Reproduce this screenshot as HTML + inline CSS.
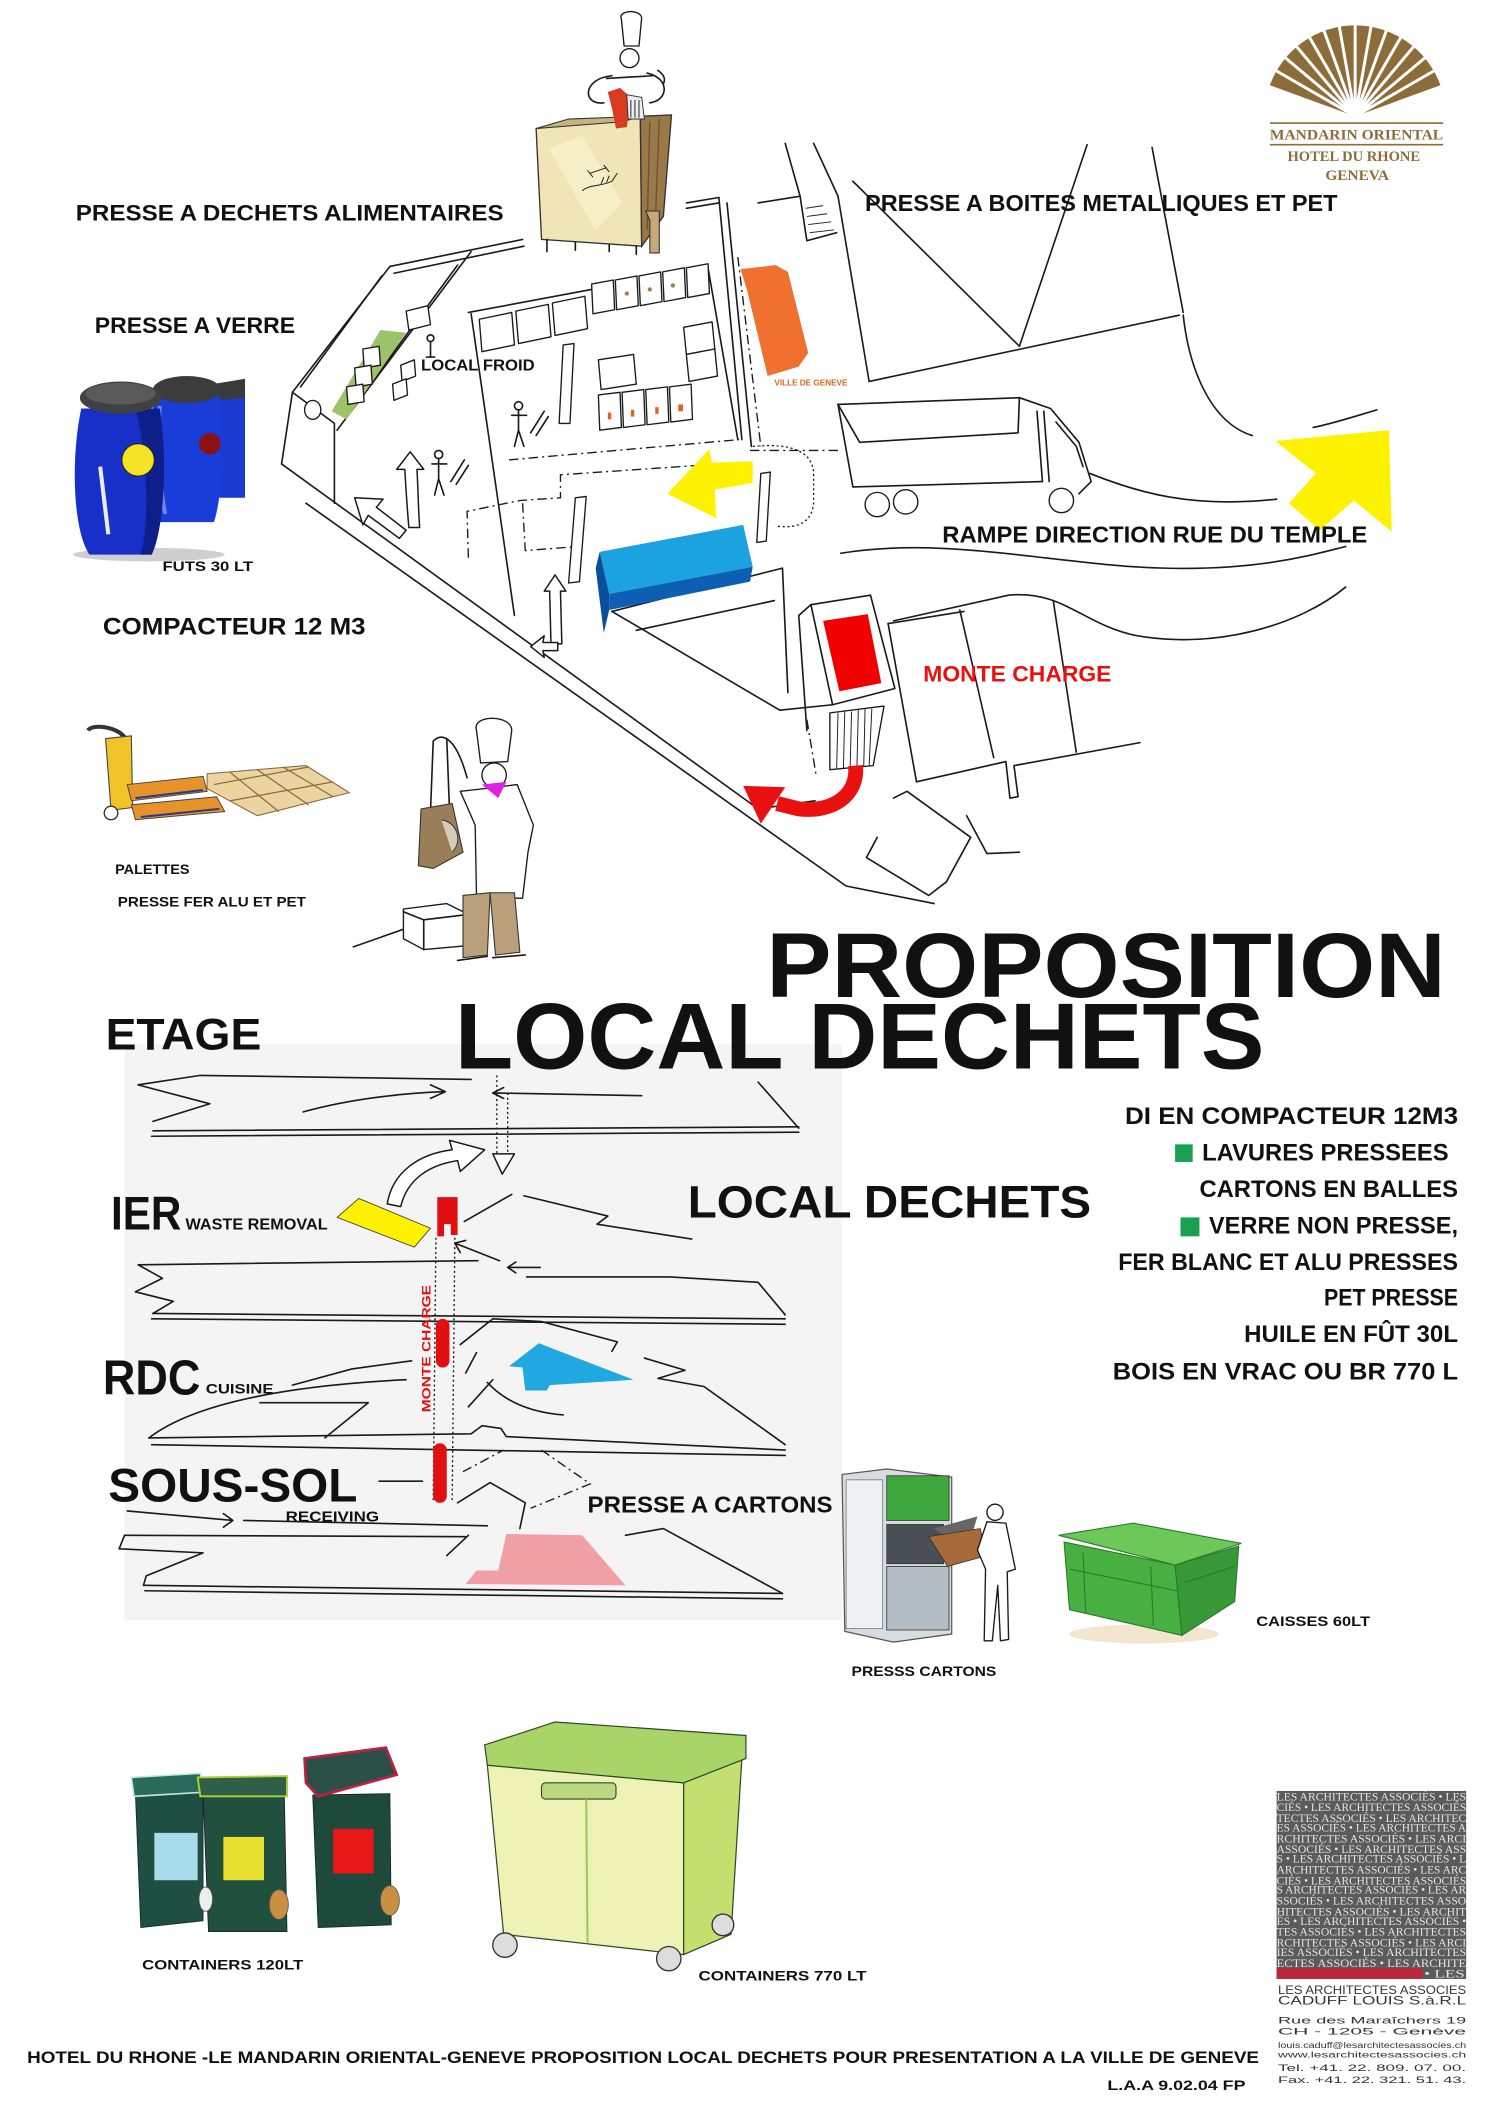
<!DOCTYPE html>
<html><head><meta charset="utf-8">
<style>
html,body{margin:0;padding:0;background:#fff;}
svg{display:block;}
.t{font-family:"Liberation Sans","DejaVu Sans",sans-serif;font-weight:700;fill:#111;}
.k{fill:none;stroke:#1a1a1a;stroke-width:1.2;stroke-linecap:round;stroke-linejoin:round;}
.kt{fill:none;stroke:#1a1a1a;stroke-width:0.7;}
.d{fill:none;stroke:#1a1a1a;stroke-width:1;stroke-dasharray:7 3 1.5 3;}
.dt{fill:none;stroke:#1a1a1a;stroke-width:1;stroke-dasharray:1.5 2;}
.w{fill:#fff;stroke:#1a1a1a;stroke-width:1.1;stroke-linejoin:round;}
.b{fill:#fff;stroke:#1a1a1a;stroke-width:1;stroke-linejoin:round;}
</style></head><body>
<svg width="1500" height="2121" viewBox="0 0 1108 1568" preserveAspectRatio="none" xmlns="http://www.w3.org/2000/svg">
<rect x="0" y="0" width="1108" height="1568" fill="#fff"/>

<!-- section background first -->
<rect x="92" y="772" width="530" height="426" fill="#f4f4f4"/>

<!-- ===== TOP LOGO ===== -->
<path d="M1001,86 L938,63 A67,67 0 0 1 1064,63 Z" fill="#8c6d3a"/>
<g stroke="#fff" stroke-width="2.2">
<line x1="1001" y1="86" x2="1001" y2="14" transform="rotate(-60 1001 86)"/>
<line x1="1001" y1="86" x2="1001" y2="14" transform="rotate(-50 1001 86)"/>
<line x1="1001" y1="86" x2="1001" y2="14" transform="rotate(-40 1001 86)"/>
<line x1="1001" y1="86" x2="1001" y2="14" transform="rotate(-30 1001 86)"/>
<line x1="1001" y1="86" x2="1001" y2="14" transform="rotate(-20 1001 86)"/>
<line x1="1001" y1="86" x2="1001" y2="14" transform="rotate(-10 1001 86)"/>
<line x1="1001" y1="86" x2="1001" y2="14"/>
<line x1="1001" y1="86" x2="1001" y2="14" transform="rotate(10 1001 86)"/>
<line x1="1001" y1="86" x2="1001" y2="14" transform="rotate(20 1001 86)"/>
<line x1="1001" y1="86" x2="1001" y2="14" transform="rotate(30 1001 86)"/>
<line x1="1001" y1="86" x2="1001" y2="14" transform="rotate(40 1001 86)"/>
<line x1="1001" y1="86" x2="1001" y2="14" transform="rotate(50 1001 86)"/>
<line x1="1001" y1="86" x2="1001" y2="14" transform="rotate(60 1001 86)"/>
</g>
<path d="M1001,86 L990,80 A13,13 0 0 1 1012,80 Z" fill="#fff"/>
<line x1="938" y1="91" x2="1066" y2="91" stroke="#8c6d3a" stroke-width="1.2"/>
<line x1="938" y1="107" x2="1066" y2="107" stroke="#8c6d3a" stroke-width="1.2"/>
<text x="938" y="103" font-family="Liberation Serif,serif" font-weight="700" font-size="11" fill="#8c6d3a" textLength="128" lengthAdjust="spacingAndGlyphs">MANDARIN ORIENTAL</text>
<text x="951" y="119" font-family="Liberation Serif,serif" font-weight="700" font-size="10.5" fill="#8c6d3a" textLength="98" lengthAdjust="spacingAndGlyphs">HOTEL DU RHONE</text>
<text x="979" y="133" font-family="Liberation Serif,serif" font-weight="700" font-size="10.5" fill="#8c6d3a" textLength="47" lengthAdjust="spacingAndGlyphs">GENEVA</text>

<!-- ===== FOOD PRESS BOX + CHEF ===== -->
<polygon points="396,95 473,86 474,182 400,177" fill="#efe5b6" stroke="#333" stroke-width="1"/>
<polygon points="405,110 430,100 460,150 440,170" fill="#f7f0cc" opacity="0.8"/>
<polygon points="473,86 496,85 490,160 474,182" fill="#9a7848" stroke="#333" stroke-width="1"/>
<line x1="480" y1="90" x2="478" y2="170" stroke="#6e5230" stroke-width="1"/>
<line x1="487" y1="88" x2="484" y2="165" stroke="#6e5230" stroke-width="1"/>
<polygon points="396,95 420,88 473,86 460,90" fill="#c9b27c" stroke="#333" stroke-width="0.8"/>
<path class="kt" d="M436,128 L448,124 M434,126 L438,131 M446,122 L450,127 M430,141 C436,136 444,138 452,134 L456,128 M444,136 L446,131 M448,135 L450,130"/>
<path class="k" d="M404,177 L404,186 M425,179 L425,185 M450,181 L450,186 M470,182 L470,188"/>
<path d="M477,156 L487,156 L487,187 L480,187 L480,163 Z" fill="#c8a878" stroke="#333" stroke-width="0.8"/>
<path d="M459,14 C456,8 472,6 474,13 L472,34 L461,34 Z" class="b"/>
<circle cx="465" cy="43" r="7" class="b"/>
<path class="k" d="M452,56 C430,58 430,78 446,76 M478,54 C495,58 494,74 480,76 M448,58 L482,56 M486,52 C490,55 492,58 490,62"/>
<polygon points="449,68 458,65 466,72 463,94 455,95 452,80" fill="#d83c20"/>
<polygon points="463,70 474,72 476,88 464,88" fill="#eee" stroke="#333" stroke-width="0.7"/>
<path class="kt" d="M466,74 L466,87 M469,74 L469,87 M472,74 L472,87"/>

<!-- ===== TOP-LEFT LABELS ===== -->
<text class="t" x="56" y="163" font-size="16.5" textLength="316" lengthAdjust="spacingAndGlyphs">PRESSE A DECHETS ALIMENTAIRES</text>
<text class="t" x="70" y="246" font-size="16.5" textLength="148" lengthAdjust="spacingAndGlyphs">PRESSE A VERRE</text>
<text class="t" x="76" y="469" font-size="17.5" textLength="194" lengthAdjust="spacingAndGlyphs">COMPACTEUR 12 M3</text>
<text class="t" x="85" y="646" font-size="10.5" textLength="55" lengthAdjust="spacingAndGlyphs">PALETTES</text>
<text class="t" x="87" y="670" font-size="10.5" textLength="139" lengthAdjust="spacingAndGlyphs">PRESSE FER ALU ET PET</text>

<!-- ===== BLUE BARRELS ===== -->
<ellipse cx="110" cy="410" rx="56" ry="5" fill="#cfcfcf"/>
<path d="M158,290 L181,290 L181,368 L160,368 C163,340 162,310 158,290 Z" fill="#1a3ad0"/>
<path d="M157,284 L181,280 L181,294 L159,296 Z" fill="#3a3a3a"/>
<path d="M114,292 C110,330 111,368 118,386 L158,386 C164,368 166,330 162,292 Z" fill="#1a3cd8"/>
<ellipse cx="138" cy="288" rx="25" ry="10" fill="#3c3c3c"/>
<path d="M118,300 C116,330 118,360 122,380" stroke="#6a86f0" stroke-width="3" fill="none"/>
<circle cx="155" cy="328" r="8" fill="#8a1212"/>
<path d="M60,302 C52,340 54,392 66,410 L112,410 C121,392 124,340 118,302 Z" fill="#1830c8"/>
<path d="M100,302 C110,340 110,390 104,410 L112,410 C121,392 124,340 118,302 Z" fill="#0e1f8a"/>
<ellipse cx="89" cy="294" rx="30" ry="12" fill="#414141"/>
<ellipse cx="89" cy="291" rx="26" ry="8" fill="#5a5a5a"/>
<path d="M74,345 L80,395" stroke="#e8ecff" stroke-width="3" fill="none"/>
<circle cx="102" cy="340" r="12" fill="#f2e424" stroke="#222" stroke-width="0.8"/>
<text class="t" x="120" y="422" font-size="10.5" textLength="67" lengthAdjust="spacingAndGlyphs">FUTS  30 LT</text>

<!-- ===== PALLET TRUCK ===== -->
<path d="M65,540 C68,535 86,537 92,545" stroke="#333" stroke-width="3" fill="none"/>
<polygon points="78,546 97,544 98,597 82,599" fill="#f0c428" stroke="#444" stroke-width="0.8"/>
<polygon points="94,580 150,574 153,585 97,592" fill="#e8922a" stroke="#444" stroke-width="0.7"/>
<polygon points="97,595 160,589 166,600 100,606" fill="#e8922a" stroke="#444" stroke-width="0.7"/>
<path d="M100,590 L150,584 M104,604 L162,598" stroke="#2a3a8a" stroke-width="1.5"/>
<circle cx="82" cy="601" r="5" fill="#fff" stroke="#333"/>
<polygon points="153,572 226,566 258,586 190,603 153,583" fill="#ecd4a0" stroke="#8a6a40" stroke-width="0.8"/>
<path d="M170,571 L206,600 M190,569 L228,595 M209,567 L246,589 M158,580 L228,567 M170,592 L246,578" stroke="#8a6a40" stroke-width="0.9"/>

<!-- ===== CHEF 2 WITH BAG ===== -->
<path d="M261,700 L298,687" class="k"/>
<polygon points="298,672 330,668 346,676 346,699 313,702 298,694" class="b"/>
<path class="k" d="M298,674 L313,680 L346,676 M313,680 L313,702"/>
<path d="M352,540 C348,528 378,528 378,540 L375,563 L355,564 Z" class="b"/>
<circle cx="365" cy="573" r="9" class="b"/>
<path d="M358,583 L382,580 L394,610 L390,630 L386,664 L352,664 L351,610 L340,585 Z" class="b"/>
<path d="M356,580 L368,590 L374,578" fill="#e020e0"/>
<polygon points="342,662 362,660 360,706 342,708" fill="#b9a07a" stroke="#333" stroke-width="0.8"/>
<polygon points="362,660 380,660 384,704 366,706" fill="#b9a07a" stroke="#333" stroke-width="0.8"/>
<path class="k" d="M338,710 L360,707 M364,708 L388,706"/>
<path class="k" d="M320,548 L318,600 M330,546 L332,598 M320,548 C325,542 336,542 345,575"/>
<polygon points="311,598 334,594 342,630 320,642 309,640" fill="#9a7e58" stroke="#333" stroke-width="0.8"/>
<path d="M326,606 C338,608 342,622 334,630" fill="#d4cbb8" stroke="#333" stroke-width="0.7"/>

<!-- ===== MAIN PLAN SKETCH ===== -->
<g class="k">
<path d="M288,197 L386,177 M291,202 L387,182"/>
<path d="M507,150 L531,146 M507,154 L531,150"/>
<path d="M288,197 L216,290 L208,343"/>
<path d="M282,204 L222,286"/>
<path d="M216,290 L247,313 L247,372"/>
<path d="M348,186 L249,318"/>
<path d="M338,196 L258,305"/>
<path d="M208,343 L560,598 L602,592"/>
<path d="M226,372 L625,655 L690,668"/>
<path d="M346,231 L437,214"/>
<path d="M348,232 L380,455"/>
<path d="M523,198 L545,325"/>
<path d="M531,146 L548,325"/>
<path d="M537,150 L555,330"/>
<path d="M452,452 L578,420 L582,512"/>
<path d="M452,452 L576,525 L615,521"/>
<path d="M470,466 L572,444"/>
<path d="M580,106 L591,145 M601,106 L619,145 M560,150 L591,145"/>
<path d="M591,145 L596,178 L618,172"/>
<path d="M619,145 L642,282"/>
<path d="M630,134 L753,256 L803,107"/>
<path d="M642,282 L871,233"/>
<path d="M851,109 L874,231"/>
<path d="M874,233 C878,270 893,312 925,322"/>
<path d="M1017,303 C1000,308 985,313 970,316"/>
<path d="M805,350 C840,364 880,376 943,369"/>
<path d="M621,409 C700,396 780,418 860,420 C930,422 970,410 994,404"/>
<path d="M660,459 L745,440 C785,436 800,462 840,470 C900,480 960,462 994,434"/>
<path d="M656,461 L712,452"/>
<path d="M656,461 L677,578"/>
<path d="M709,451 L734,560"/>
<path d="M778,444 L795,556"/>
<path d="M677,578 L743,563 L746,590 L752,589 L749,566 L842,549"/>
<path d="M660,590 L670,585 L717,619 L699,652 L686,662 L640,634 L648,619"/>
<path d="M714,603 L729,631 L753,630"/>
<path d="M599,447 L643,440 L661,509 L615,521 Z"/>
<path d="M590,455 L599,447 M590,455 L596,540"/>
<path d="M619,299 L753,294 L776,302 L797,327 L806,356 L797,365"/>
<path d="M619,299 L630,360 L770,356"/>
<path d="M619,299 L635,327 L752,320 L753,294"/>
<path d="M766,304 L770,356 M771,304 L775,356 M780,312 L795,330 L800,345"/>
</g>
<circle cx="648" cy="373" r="9" class="b"/>
<circle cx="669" cy="371" r="9" class="b"/>
<circle cx="784" cy="370" r="9" class="b"/>
<path d="M554,333 L619,333" class="d"/>
<path d="M376,340 L546,325" class="d"/>
<path d="M546,342 L414,351 L414,368 L384,370 L345,378 L346,414" class="d"/>
<path d="M386,372 L388,407 L428,404" class="d"/>
<path d="M545,190 L562,330" class="d"/>
<path d="M556,330 Q600,326 601,350 L601,372 Q599,392 574,389" class="dt"/>
<path d="M596,532 L603,574" class="d"/>
<path d="M262,300 L290,262" class="d"/>
<path class="kt" d="M595,154 L608,152 M596,160 L611,158 M597,166 L614,164 M598,172 L616,170"/>

<polygon points="281,244 300,246 256,310 245,304" fill="#9cc26a"/>
<polygon points="268,258 280,256 281,270 269,272" class="b"/>
<polygon points="262,272 274,270 275,284 263,286" class="b"/>
<polygon points="256,286 268,284 269,297 257,299" class="b"/>
<polygon points="300,230 316,226 318,240 302,244" class="b"/>
<polygon points="296,270 306,266 307,278 297,282" class="b"/>
<polygon points="290,284 300,280 301,292 291,296" class="b"/>
<ellipse cx="231" cy="303" rx="6" ry="7" class="b"/>

<polygon points="354,236 378,231 380,255 356,260" class="b"/>
<polygon points="381,230 405,225 407,249 383,254" class="b"/>
<polygon points="408,224 432,219 434,243 410,248" class="b"/>
<polygon points="437,210 453,207 454,229 438,232" class="b"/>
<polygon points="454.5,207 470.5,204 471.5,226 455.5,229" class="b"/>
<polygon points="472,204 488,201 489,223 473,226" class="b"/>
<polygon points="489.5,201 505.5,198 506.5,220 490.5,223" class="b"/>
<polygon points="507,198 523,195 524,217 508,220" class="b"/>
<circle cx="463" cy="217" r="1.6" fill="#a08050"/>
<circle cx="480" cy="214" r="1.6" fill="#a08050"/>
<circle cx="497" cy="211" r="1.6" fill="#a08050"/>
<polygon points="442,266 468,262 470,284 444,288" class="b"/>
<polygon points="442,292 458,290 459,316 443,318" class="b"/>
<polygon points="459.5,290 475.5,288 476.5,314 460.5,316" class="b"/>
<polygon points="477,288 493,286 494,312 478,314" class="b"/>
<polygon points="494.5,286 510.5,284 511.5,310 495.5,312" class="b"/>
<rect x="449" y="305" width="2.5" height="5" fill="#e86020"/>
<rect x="466" y="303" width="2.5" height="5" fill="#e86020"/>
<rect x="484" y="301" width="2.5" height="5" fill="#e86020"/>
<rect x="501" y="299" width="3.5" height="5" fill="#e86020"/>
<polygon points="505,242 526,238 528,258 507,262" class="b"/>
<polygon points="507,262 528,258 530,278 509,282" class="b"/>
<polygon points="416,255 424,254 421,313 413,313" class="b"/>
<polygon points="425,368 433,367 428,430 420,431" class="b"/>
<polygon points="562,350 569,349 566,400 559,401" class="b"/>

<g class="k" stroke-width="1">
<circle cx="383" cy="300" r="3"/><path d="M383,303 L383,318 L380,330 M383,318 L387,330 M378,307 L389,307 M392,320 L402,304 M396,322 L405,308"/>
<circle cx="324" cy="336" r="3"/><path d="M324,339 L324,354 L321,366 M324,354 L328,366 M319,343 L330,343 M333,356 L343,340 M337,358 L346,344"/>
<circle cx="318" cy="250" r="2.5"/><path d="M318,253 L318,264 M315,264 L321,264"/>
</g>

<path class="w" d="M303,334 L313,347 L308,347 C309,365 309,378 310,390 L302,390 C301,378 300,365 299,347 L293,347 Z"/>
<path class="w" d="M262,368 L283,369 L278,375 L300,392 L295,398 L272,381 L268,388 Z"/>
<path class="w" d="M410,425 L418,437 L414,437 L415,476 L407,476 L406,437 L402,437 Z"/>
<path class="w" d="M392,478 L402,470 L401,475 L412,475 L412,481 L401,481 L402,486 Z"/>

<polygon points="547,199 573,196 582,201 597,261 590,271 567,278 552,215" fill="#f07030"/>
<polygon points="493,365 524,332 526,342 556,341 556,357 528,362 529,383" fill="#fff200"/>
<polygon points="443,408 549,388 556,419 450,439" fill="#1aa3e0"/>
<polygon points="450,439 556,419 554,430 450,451" fill="#0d5fb4"/>
<polygon points="443,408 450,439 450,451 446,468 440,420" fill="#0a4f9e"/>
<polygon points="608,459 641,454 651,505 620,511" fill="#f00000"/>
<polygon points="613,527 653,522 645,566 613,569" class="b"/>
<path class="kt" d="M619,527 L618,568 M624,526 L623,568 M629,526 L628,567 M634,525 L633,567 M639,524 L638,567 M644,524 L642,566"/>
<path d="M632,566 C634,588 615,601 590,598 L574,594" fill="none" stroke="#e81010" stroke-width="11"/>
<polygon points="549,581 580,582 562,609" fill="#e81010"/>
<polygon points="942,326 1026,318 1028,393 1000,370 975,392 952,372 972,350" fill="#fff200"/>

<text class="t" x="311" y="274" font-size="11.5" textLength="84" lengthAdjust="spacingAndGlyphs">LOCAL FROID</text>
<text class="t" x="572" y="285" font-size="6" style="fill:#e06020" textLength="54" lengthAdjust="spacingAndGlyphs">VILLE DE GENEVE</text>
<text class="t" x="639" y="156" font-size="17" textLength="349" lengthAdjust="spacingAndGlyphs">PRESSE A BOITES METALLIQUES ET PET</text>
<text class="t" x="696" y="401" font-size="17" textLength="314" lengthAdjust="spacingAndGlyphs">RAMPE DIRECTION RUE DU TEMPLE</text>
<text class="t" x="682" y="504" font-size="16.5" style="fill:#e81010" textLength="139" lengthAdjust="spacingAndGlyphs">MONTE CHARGE</text>

<!-- ===== SECTION DIAGRAM ===== -->
<text class="t" x="78" y="776" font-size="33" textLength="115" lengthAdjust="spacingAndGlyphs">ETAGE</text>
<g class="k" stroke-width="1.1">
<path d="M348,798 L148,795 L102,802 L155,816 L113,829"/>
<path d="M113,836 L590,833 M112,840 L590,837"/>
<path d="M560,800 L590,834"/>
<path d="M224,822 C260,812 300,808 329,807 M318,802 L329,807 L318,812"/>
<path d="M364,808 L474,810 M372,804 L364,808 L372,812"/>
<path d="M343,903 L378,883"/>
<path d="M387,884 L449,899 L441,905 L511,916"/>
<path d="M336,919 L369,932 M336,919 L344,917 M336,919 L340,926"/>
<path d="M353,932 L102,935 L120,945 L100,955 L128,962 L113,971"/>
<path d="M113,971 L580,975 M112,975 L580,979"/>
<path d="M389,944 L495,944 L560,948 L580,972"/>
<path d="M375,937 L399,937 M381,933 L375,937 L381,941"/>
<path d="M110,1063 C140,1040 200,1025 300,1020"/>
<path d="M192,1037 L272,1037 M240,1063 L272,1037"/>
<path d="M216,1024 L260,1012 L304,1006"/>
<path d="M340,994 L364,975 L400,977 L456,992 L452,999"/>
<path d="M476,1004 L506,1013 L486,1019 L520,1025 L580,1068"/>
<path d="M360,1022 C372,1035 390,1044 416,1046"/>
<path d="M344,1015 L352,1000 M346,1040 L364,1020"/>
<path d="M110,1063 L348,1060 L356,1054 L370,1056 L374,1062 L580,1072 M112,1068 L580,1076"/>
<path d="M280,1095 L312,1095"/>
<path d="M92,1135 L344,1136 M92,1135 L88,1145 L150,1148 L108,1165 L106,1172"/>
<path d="M94,1117 L172,1124 M165,1119 L172,1124 L165,1129"/>
<path d="M180,1124 L360,1128"/>
<path d="M106,1172 L578,1178 M107,1176 L578,1182"/>
<path d="M338,1111 L362,1096 L388,1111 L384,1130"/>
<path d="M462,1135 L490,1130 L578,1178"/>
<path d="M330,1150 L346,1135"/>
</g>
<path d="M342,1088 L372,1072 M400,1072 L436,1097 L392,1115" class="d"/>
<path d="M367,795 L367,858 M375,808 L375,858" class="dt"/>
<polygon points="364,853 380,853 371,868" class="w"/>
<path class="w" d="M286,890 C290,866 310,853 334,850 L332,843 L358,850 L340,866 L338,858 C318,861 301,871 296,892 Z"/>
<path d="M322,915 L320,1110 M336,915 L334,1110" class="dt"/>
<polygon points="249,900 265,886 318,908 306,922" fill="#fff200" stroke="#333" stroke-width="0.6"/>
<polygon points="323,885 338,885 338,913 333,913 333,905 328,905 328,914 323,914" fill="#e01010"/>
<rect x="322" y="975" width="10" height="36" rx="5" fill="#e01010"/>
<rect x="320" y="1067" width="10" height="44" rx="5" fill="#e01010"/>
<polygon points="376,1010 398,993 468,1020 406,1024 404,1028 388,1028 386,1011" fill="#20a8e0"/>
<polygon points="344,1171 352,1161 368,1161 374,1134 430,1135 462,1172" fill="#f0a0a4"/>
<text class="t" x="0" y="0" font-size="9" style="fill:#e01010" transform="translate(318,1044) rotate(-90)" textLength="94" lengthAdjust="spacingAndGlyphs">MONTE CHARGE</text>

<text class="t" x="82" y="909" font-size="35" textLength="52" lengthAdjust="spacingAndGlyphs">IER</text>
<text class="t" x="137" y="909" font-size="11.5" textLength="105" lengthAdjust="spacingAndGlyphs">WASTE REMOVAL</text>
<text class="t" x="76" y="1031" font-size="36" textLength="72" lengthAdjust="spacingAndGlyphs">RDC</text>
<text class="t" x="152" y="1030" font-size="10.5" textLength="50" lengthAdjust="spacingAndGlyphs">CUISINE</text>
<text class="t" x="80" y="1110" font-size="35" textLength="184" lengthAdjust="spacingAndGlyphs">SOUS-SOL</text>
<text class="t" x="211" y="1125" font-size="11" textLength="69" lengthAdjust="spacingAndGlyphs">RECEIVING</text>
<text class="t" x="508" y="900" font-size="33.5" textLength="298" lengthAdjust="spacingAndGlyphs">LOCAL DECHETS</text>
<text class="t" x="434" y="1118" font-size="17" textLength="181" lengthAdjust="spacingAndGlyphs">PRESSE A CARTONS</text>

<!-- ===== TITLES (drawn after background) ===== -->
<text class="t" x="566" y="737" font-size="68" textLength="502" lengthAdjust="spacingAndGlyphs">PROPOSITION</text>
<text class="t" x="336" y="790" font-size="69" textLength="598" lengthAdjust="spacingAndGlyphs">LOCAL DECHETS</text>

<!-- ===== RIGHT LIST ===== -->
<text class="t" x="831" y="831" font-size="17.5" textLength="246" lengthAdjust="spacingAndGlyphs">DI EN COMPACTEUR 12M3</text>
<rect x="868" y="846" width="13" height="13" fill="#1aa050"/>
<text class="t" x="888" y="858" font-size="17.5" textLength="182" lengthAdjust="spacingAndGlyphs">LAVURES  PRESSEES</text>
<text class="t" x="886" y="885" font-size="17.5" textLength="191" lengthAdjust="spacingAndGlyphs">CARTONS EN BALLES</text>
<rect x="872" y="900" width="14" height="14" fill="#1aa050"/>
<text class="t" x="893" y="912" font-size="17.5" textLength="184" lengthAdjust="spacingAndGlyphs">VERRE NON PRESSE,</text>
<text class="t" x="826" y="939" font-size="17.5" textLength="251" lengthAdjust="spacingAndGlyphs">FER BLANC ET ALU PRESSES</text>
<text class="t" x="978" y="965" font-size="17.5" textLength="99" lengthAdjust="spacingAndGlyphs">PET PRESSE</text>
<text class="t" x="919" y="992" font-size="17.5" textLength="158" lengthAdjust="spacingAndGlyphs">HUILE EN FÛT 30L</text>
<text class="t" x="822" y="1020" font-size="17.5" textLength="255" lengthAdjust="spacingAndGlyphs">BOIS EN VRAC OU BR 770 L</text>

<!-- ===== PRESS CARTONS MACHINE ===== -->
<polygon points="622,1090 655,1086 703,1092 703,1208 660,1214 624,1206" fill="#d6dce0" stroke="#555" stroke-width="0.9"/>
<rect x="625" y="1094" width="27" height="110" fill="#eef1f2" stroke="#777" stroke-width="0.6"/>
<rect x="655" y="1091" width="46" height="33" fill="#3ea83e" stroke="#333" stroke-width="0.6"/>
<rect x="655" y="1127" width="42" height="29" fill="#4a4f55" stroke="#333" stroke-width="0.6"/>
<rect x="655" y="1158" width="46" height="47" fill="#b4bcc4" stroke="#333" stroke-width="0.6"/>
<polygon points="690,1130 722,1121 714,1148" fill="#666"/>
<polygon points="686,1136 724,1130 729,1150 700,1158" fill="#a86a3a" stroke="#333" stroke-width="0.6"/>
<circle cx="735" cy="1118" r="6" class="b"/>
<path class="b" d="M729,1125 L743,1126 L750,1160 L744,1162 L745,1212 L739,1213 L737,1172 L733,1213 L727,1213 L728,1160 L722,1146 Z"/>
<text class="t" x="629" y="1239" font-size="10.5" textLength="107" lengthAdjust="spacingAndGlyphs">PRESSS CARTONS</text>

<!-- ===== GREEN CRATE ===== -->
<ellipse cx="845" cy="1208" rx="55" ry="7" fill="#f2e6cf"/>
<polygon points="786,1140 868,1157 873,1209 790,1190" fill="#48b040" stroke="#2a7a2a" stroke-width="0.8"/>
<polygon points="868,1157 915,1143 912,1184 873,1209" fill="#389838" stroke="#2a7a2a" stroke-width="0.8"/>
<polygon points="782,1135 837,1126 917,1141 868,1157" fill="#6cc858" stroke="#2a7a2a" stroke-width="0.8"/>
<path d="M790,1160 L869,1176 M800,1148 L802,1192 M850,1158 L852,1202 M875,1170 L912,1158" stroke="#2a7a2a" stroke-width="0.8" fill="none"/>
<text class="t" x="928" y="1202" font-size="10.5" textLength="84" lengthAdjust="spacingAndGlyphs">CAISSES 60LT</text>

<!-- ===== CONTAINERS 120L ===== -->
<polygon points="100,1325 150,1323 150,1420 104,1425" fill="#1f4e42" stroke="#123" stroke-width="0.6"/>
<polygon points="97,1314 148,1311 150,1325 99,1328" fill="#2a6a5a" stroke="#bfe8e0" stroke-width="1.2"/>
<rect x="114" y="1355" width="32" height="35" fill="#a8dcea"/>
<polygon points="150,1325 210,1325 212,1428 154,1428" fill="#22503f" stroke="#123" stroke-width="0.6"/>
<polygon points="146,1314 212,1313 212,1328 148,1328" fill="#2f5f48" stroke="#b0d030" stroke-width="1.4"/>
<rect x="165" y="1358" width="30" height="32" fill="#e8e030"/>
<ellipse cx="206" cy="1408" rx="7" ry="11" fill="#c89040" stroke="#555" stroke-width="0.6"/>
<ellipse cx="152" cy="1404" rx="5" ry="9" fill="#eee" stroke="#555" stroke-width="0.6"/>
<polygon points="231,1327 288,1326 289,1423 235,1425" fill="#1e4a3c" stroke="#123" stroke-width="0.6"/>
<polygon points="225,1300 285,1292 293,1312 235,1328 226,1318" fill="#2a5048" stroke="#c02040" stroke-width="2"/>
<rect x="246" y="1352" width="30" height="33" fill="#e81818"/>
<ellipse cx="288" cy="1405" rx="7" ry="11" fill="#c89040" stroke="#555" stroke-width="0.6"/>
<text class="t" x="105" y="1456" font-size="10.5" textLength="119" lengthAdjust="spacingAndGlyphs">CONTAINERS 120LT</text>

<!-- ===== CONTAINER 770L ===== -->
<polygon points="360,1305 505,1318 505,1445 372,1430" fill="#eef2b4" stroke="#2a4a2a" stroke-width="0.9"/>
<polygon points="505,1318 548,1300 540,1430 505,1445" fill="#c4de70" stroke="#2a4a2a" stroke-width="0.9"/>
<polygon points="358,1290 410,1273 551,1283 551,1300 505,1318 360,1305" fill="#a8d468" stroke="#2a4a2a" stroke-width="0.9"/>
<rect x="400" y="1318" width="55" height="12" rx="3" fill="#bcd880" stroke="#2a4a2a" stroke-width="0.8"/>
<line x1="433" y1="1330" x2="434" y2="1436" stroke="#9cc860" stroke-width="1.5"/>
<circle cx="373" cy="1438" r="9" fill="#ddd" stroke="#333"/>
<circle cx="494" cy="1448" r="9" fill="#ddd" stroke="#333"/>
<circle cx="534" cy="1423" r="8" fill="#ddd" stroke="#333"/>
<text class="t" x="516" y="1464" font-size="10.5" textLength="124" lengthAdjust="spacingAndGlyphs">CONTAINERS 770 LT</text>

<!-- ===== FOOTER ===== -->
<text class="t" x="20" y="1525" font-size="12" textLength="910" lengthAdjust="spacingAndGlyphs">HOTEL DU RHONE -LE MANDARIN ORIENTAL-GENEVE  PROPOSITION LOCAL DECHETS POUR PRESENTATION A LA VILLE DE GENEVE</text>
<text class="t" x="818" y="1545" font-size="10.5" textLength="102" lengthAdjust="spacingAndGlyphs">L.A.A 9.02.04 FP</text>

<!-- ===== ARCHITECTS LOGO ===== -->
<rect x="943" y="1324" width="140" height="139" fill="#5b5b5b"/>
<g font-family="Liberation Serif,serif" font-size="8.2" fill="#e4e4e4">
<text x="943" y="1331" textLength="140" lengthAdjust="spacingAndGlyphs">LES ARCHITECTES ASSOCIÉS • LES</text>
<text x="943" y="1339" textLength="140" lengthAdjust="spacingAndGlyphs">CIÉS • LES ARCHITECTES ASSOCIÉS</text>
<text x="943" y="1347" textLength="140" lengthAdjust="spacingAndGlyphs">TECTES ASSOCIÉS • LES ARCHITEC</text>
<text x="943" y="1354" textLength="140" lengthAdjust="spacingAndGlyphs">ES ASSOCIÉS • LES ARCHITECTES A</text>
<text x="943" y="1362" textLength="140" lengthAdjust="spacingAndGlyphs">RCHITECTES ASSOCIÉS • LES ARCI</text>
<text x="943" y="1370" textLength="140" lengthAdjust="spacingAndGlyphs">ASSOCIÉS • LES ARCHITECTES ASS</text>
<text x="943" y="1377" textLength="140" lengthAdjust="spacingAndGlyphs">S • LES ARCHITECTES ASSOCIÉS • L</text>
<text x="943" y="1385" textLength="140" lengthAdjust="spacingAndGlyphs">ARCHITECTES ASSOCIÉS • LES ARC</text>
<text x="943" y="1393" textLength="140" lengthAdjust="spacingAndGlyphs">CIÉS • LES ARCHITECTES ASSOCIÉS</text>
<text x="943" y="1400" textLength="140" lengthAdjust="spacingAndGlyphs">S ARCHITECTES ASSOCIÉS • LES AR</text>
<text x="943" y="1408" textLength="140" lengthAdjust="spacingAndGlyphs">SSOCIÉS • LES ARCHITECTES ASSO</text>
<text x="943" y="1416" textLength="140" lengthAdjust="spacingAndGlyphs">HITECTES ASSOCIÉS • LES ARCHIT</text>
<text x="943" y="1423" textLength="140" lengthAdjust="spacingAndGlyphs">ÉS • LES ARCHITECTES ASSOCIÉS •</text>
<text x="943" y="1431" textLength="140" lengthAdjust="spacingAndGlyphs">TES ASSOCIÉS • LES ARCHITECTES</text>
<text x="943" y="1439" textLength="140" lengthAdjust="spacingAndGlyphs">RCHITECTES ASSOCIÉS • LES ARCI</text>
<text x="943" y="1446" textLength="140" lengthAdjust="spacingAndGlyphs">IES ASSOCIÉS • LES ARCHITECTES</text>
<text x="943" y="1454" textLength="140" lengthAdjust="spacingAndGlyphs">ECTES ASSOCIÉS • LES ARCHITE</text>
</g>
<rect x="943" y="1455" width="108" height="8" fill="#b8283a"/>
<text x="1052" y="1462" font-family="Liberation Serif,serif" font-size="8.2" fill="#e4e4e4" textLength="30" lengthAdjust="spacingAndGlyphs">• LES</text>
<g font-family="Liberation Sans,sans-serif" fill="#333">
<text x="944" y="1474" font-size="8.5" textLength="139" lengthAdjust="spacingAndGlyphs">LES ARCHITECTES ASSOCIES</text>
<text x="944" y="1482" font-size="8.5" textLength="139" lengthAdjust="spacingAndGlyphs">CADUFF  LOUIS  S.à.R.L</text>
<text x="944" y="1496" font-size="6.5" textLength="139" lengthAdjust="spacingAndGlyphs">Rue  des  Maraîchers  19</text>
<text x="944" y="1504" font-size="6.5" textLength="139" lengthAdjust="spacingAndGlyphs">CH  -  1205  -  Genève</text>
<text x="944" y="1514" font-size="6" textLength="139" lengthAdjust="spacingAndGlyphs">louis.caduff@lesarchitectesassocies.ch</text>
<text x="944" y="1521" font-size="6" textLength="139" lengthAdjust="spacingAndGlyphs">www.lesarchitectesassocies.ch</text>
<text x="944" y="1531" font-size="6.5" textLength="139" lengthAdjust="spacingAndGlyphs">Tel.  +41.  22.  809.  07.  00.</text>
<text x="944" y="1540" font-size="6.5" textLength="139" lengthAdjust="spacingAndGlyphs">Fax.  +41.  22.  321.  51.  43.</text>
</g>
</svg>
</body></html>
